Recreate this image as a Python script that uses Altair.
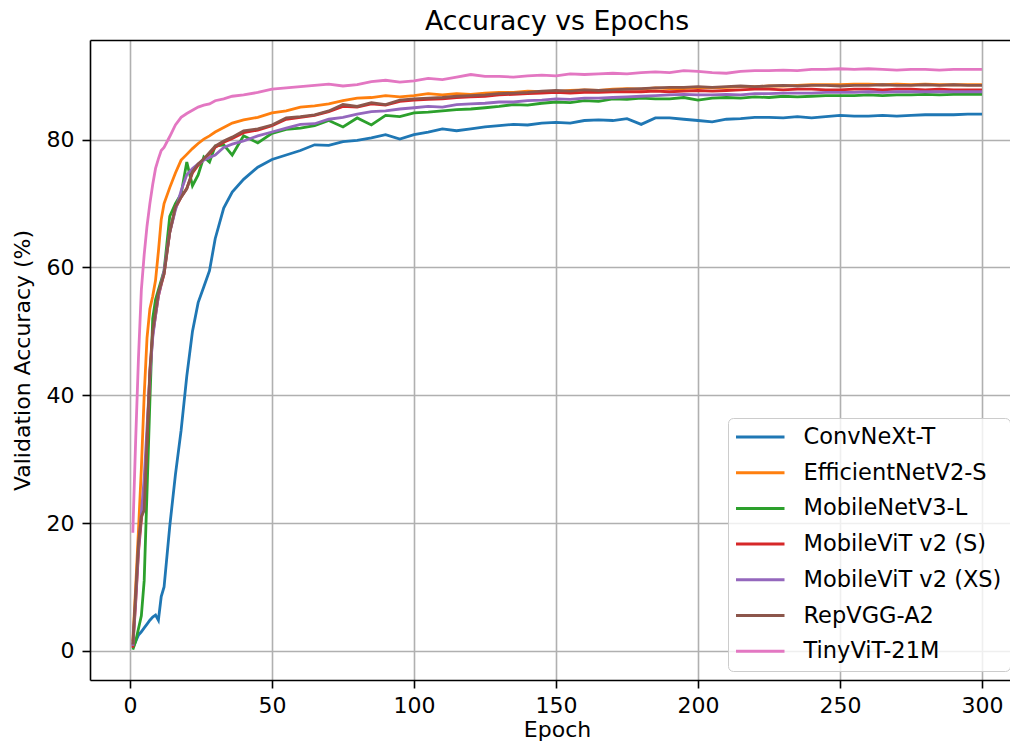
import altair as alt
import pandas as pd

epochs = [1, 2, 3, 4, 5, 6, 7, 8, 9, 10, 11, 12, 14, 16, 18, 20, 22, 24, 26, 28, 30, 33, 36, 40, 45,
          50, 55, 60, 65, 70, 75, 80, 85, 90, 95,
          100, 105, 110, 115, 120, 125, 130, 135, 140, 145,
          150, 155, 160, 165, 170, 175, 180, 185, 190, 195,
          200, 205, 210, 215, 220, 225, 230, 235, 240, 245,
          250, 255, 260, 265, 270, 275, 280, 285, 290, 295, 300]

convnext = [0.5, 1.5, 2.5, 3.0, 3.6, 4.2, 4.8, 5.3, 5.6, 4.8, 8.5, 10.0, 19.5, 27.6, 34.5, 43.0, 50.0, 54.5, 57.0, 59.5, 64.5, 69.3, 71.8, 73.8, 75.7,
            76.9, 77.6, 78.3, 79.2, 79.1, 79.7, 79.9, 80.3, 80.8, 80.1,
            80.8, 81.2, 81.7, 81.4, 81.7, 82.0, 82.2, 82.4, 82.3, 82.6,
            82.7, 82.6, 83.0, 83.1, 83.0, 83.3, 82.4, 83.4, 83.4, 83.2,
            83.0, 82.8, 83.2, 83.3, 83.5, 83.5, 83.4, 83.6, 83.4, 83.6,
            83.8, 83.7, 83.7, 83.8, 83.7, 83.8, 83.9, 83.9, 83.9, 84.0, 84.0]

efficientnet = [1.5, 10.0, 19.0, 28.5, 40.0, 49.0, 53.5, 55.5, 58.0, 62.5, 67.5, 70.0, 72.5, 74.8, 76.8, 77.7, 78.6, 79.4, 80.1, 80.6, 81.2, 81.9, 82.6, 83.1, 83.5,
                84.2, 84.5, 85.1, 85.3, 85.6, 86.1, 86.5, 86.6, 86.9, 86.7,
                86.9, 87.2, 87.0, 87.2, 87.1, 87.3, 87.4, 87.4, 87.6, 87.5,
                87.5, 87.7, 87.8, 87.7, 87.9, 88.0, 87.9, 88.1, 88.0, 88.0,
                88.2, 88.1, 88.2, 88.3, 88.3, 88.4, 88.4, 88.5, 88.6, 88.6,
                88.6, 88.7, 88.7, 88.6, 88.7, 88.6, 88.7, 88.6, 88.6, 88.6, 88.6]

mobilenet = [0.2, 1.5, 3.5, 5.5, 11.0, 25.0, 39.0, 52.0, 55.0, 56.5, 58.0, 59.5, 68.0, 70.0, 71.5, 76.5, 72.8, 74.5, 77.3, 76.5, 79.0, 79.2, 77.6, 80.6, 79.5,
             81.0, 81.6, 81.8, 82.2, 83.0, 82.0, 83.4, 82.3, 83.8, 83.6,
             84.2, 84.3, 84.5, 84.7, 84.8, 85.0, 85.2, 85.5, 85.4, 85.7,
             85.9, 85.8, 86.1, 86.0, 86.4, 86.3, 86.5, 86.4, 86.4, 86.6,
             86.2, 86.5, 86.6, 86.5, 86.7, 86.6, 86.8, 86.7, 86.8, 86.9,
             86.9, 86.9, 87.0, 86.9, 87.0, 87.0, 87.1, 87.0, 87.1, 87.1, 87.1]

mobilevit_s = [0.5, 7.5, 15.5, 20.5, 24.0, 33.0, 43.5, 49.5, 52.5, 55.5, 57.3, 59.0, 65.5, 69.3, 71.0, 72.4, 74.8, 76.0, 76.9, 77.8, 78.8, 79.6, 80.2, 81.1, 81.5,
               82.2, 83.2, 83.5, 83.8, 84.4, 85.2, 85.1, 85.6, 85.4, 86.0,
               86.2, 86.3, 86.4, 86.6, 86.7, 86.8, 87.0, 87.1, 87.2, 87.3,
               87.4, 87.3, 87.4, 87.4, 87.5, 87.5, 87.5, 87.6, 87.5, 87.6,
               87.7, 87.6, 87.7, 87.8, 87.9, 87.9, 87.8, 87.9, 87.9, 87.8,
               87.8, 87.9, 87.9, 87.8, 87.9, 87.9, 87.8, 87.9, 87.8, 87.8, 87.8]

mobilevit_xs = [0.8, 8.0, 16.0, 21.5, 27.0, 35.0, 43.0, 49.0, 52.5, 55.5, 57.5, 59.5, 65.5, 69.0, 72.0, 74.5, 75.5, 76.2, 76.8, 77.2, 77.6, 78.8, 79.3, 79.8, 80.6,
                81.2, 81.8, 82.4, 82.5, 83.2, 83.5, 84.0, 84.4, 84.5, 84.8,
                85.0, 85.2, 85.1, 85.5, 85.6, 85.7, 85.9, 85.9, 86.1, 86.2,
                86.4, 86.3, 86.5, 86.5, 86.6, 86.7, 86.8, 86.9, 87.0, 87.1,
                87.0, 87.0, 87.1, 87.0, 87.2, 87.2, 87.3, 87.3, 87.3, 87.4,
                87.4, 87.4, 87.5, 87.4, 87.5, 87.5, 87.5, 87.5, 87.5, 87.5, 87.5]

repvgg = [1.0, 9.0, 17.0, 21.0, 22.0, 33.0, 44.0, 50.0, 53.0, 56.0, 57.5, 59.0, 65.5, 69.5, 71.0, 72.3, 75.0, 76.2, 77.0, 78.0, 79.0, 79.8, 80.4, 81.4, 81.7,
          82.3, 83.4, 83.6, 83.9, 84.5, 85.5, 85.2, 85.8, 85.5, 86.2,
          86.4, 86.5, 86.6, 86.8, 86.9, 87.0, 87.2, 87.3, 87.4, 87.6,
          87.7, 87.6, 87.8, 87.7, 87.8, 87.9, 88.0, 88.1, 88.2, 88.2,
          88.3, 88.2, 88.3, 88.4, 88.3, 88.4, 88.5, 88.4, 88.5, 88.5,
          88.4, 88.5, 88.5, 88.6, 88.5, 88.5, 88.6, 88.5, 88.6, 88.5, 88.5]

tinyvit = [18.5, 33.0, 46.0, 56.5, 62.0, 66.5, 70.0, 73.0, 75.5, 77.0, 78.3, 78.8, 80.5, 82.3, 83.5, 84.1, 84.6, 85.1, 85.4, 85.6, 86.1, 86.4, 86.8, 87.0, 87.4,
           87.9, 88.1, 88.3, 88.5, 88.7, 88.4, 88.6, 89.1, 89.3, 89.0,
           89.2, 89.6, 89.4, 89.8, 90.2, 89.9, 89.9, 89.8, 90.0, 90.1,
           90.0, 90.3, 90.2, 90.3, 90.4, 90.3, 90.5, 90.6, 90.5, 90.8,
           90.7, 90.5, 90.4, 90.7, 90.8, 90.8, 90.9, 90.8, 91.0, 91.0,
           91.1, 91.0, 91.1, 91.0, 90.9, 91.0, 91.0, 90.9, 91.0, 91.0, 91.0]

models = ["ConvNeXt-T", "EfficientNetV2-S", "MobileNetV3-L", "MobileViT v2 (S)",
          "MobileViT v2 (XS)", "RepVGG-A2", "TinyViT-21M"]
series = [convnext, efficientnet, mobilenet, mobilevit_s, mobilevit_xs, repvgg, tinyvit]
colors = ["#1f77b4", "#ff7f0e", "#2ca02c", "#d62728", "#9467bd", "#8c564b", "#e377c2"]
x_ticks = [0, 50, 100, 150, 200, 250, 300]
y_ticks = [0, 20, 40, 60, 80]

rows = []
for i, (m, vals) in enumerate(zip(models, series)):
    for e, v in zip(epochs, vals):
        rows.append({"model": m, "order": i, "epoch": e, "acc": v})
df = pd.DataFrame(rows)

FONT = "DejaVu Sans"
x_scale = alt.Scale(domain=[-14.08, 309.86], nice=False, zero=False)
y_enc = alt.Y("acc:Q",
              scale=alt.Scale(domain=[-4.55, 95.6], nice=False, zero=False),
              axis=alt.Axis(values=y_ticks, title="Validation Accuracy (%)",
                            labelPadding=8, titleX=-60.5, titleAngle=270,
                            titleBaseline="alphabetic"))

lines = alt.Chart(df).mark_line(strokeWidth=2.8, clip=True).encode(
    x=alt.X("epoch:Q", scale=x_scale,
            axis=alt.Axis(values=x_ticks, title="Epoch", format="d",
                          labelPadding=7, titleY=56, titleX=467,
                          titleBaseline="alphabetic")),
    y=y_enc,
    color=alt.Color("model:N",
                    scale=alt.Scale(domain=models, range=colors),
                    legend=alt.Legend(orient="none", legendX=638, legendY=378,
                                      title=None, symbolType="stroke",
                                      symbolSize=2500, symbolStrokeWidth=3,
                                      clipHeight=22,
                                      labelFontSize=22.5, labelFont=FONT,
                                      labelColor="black", labelLimit=400,
                                      rowPadding=12.7, padding=8, symbolOffset=-3,
                                      labelOffset=17.5,
                                      fillColor="rgba(255,255,255,0.8)",
                                      strokeColor="#cccccc", cornerRadius=5)),
    detail="order:O",
)

# invisible copy that only carries the top frame line (matplotlib spine)
top_frame = alt.Chart(df).mark_line(strokeOpacity=0).encode(
    x=alt.X("epoch:Q", scale=x_scale,
            axis=alt.Axis(orient="top", labels=False, ticks=False, grid=False,
                          domain=True, title=None)),
    y=y_enc,
    detail="order:O",
)

chart = alt.layer(lines, top_frame).resolve_axis(x="independent").properties(
    width=920,
    height=640,
    autosize=alt.AutoSizeParams(type="none"),
    padding={"left": 82, "top": 32, "right": 0, "bottom": 62},
    title=alt.TitleParams("Accuracy vs Epochs", fontSize=26.7, font=FONT,
                          fontWeight="normal", color="black", anchor="middle",
                          dx=7, baseline="top", offset=4),
).configure_view(
    stroke="transparent", strokeWidth=0
).configure_axis(
    labelFont=FONT, labelFontSize=22, labelColor="black",
    titleFont=FONT, titleFontSize=22, titleFontWeight="normal", titleColor="black",
    tickColor="black", tickSize=8, tickWidth=1.6,
    domain=True, domainColor="black", domainWidth=1.6,
    grid=True, gridColor="#b0b0b0", gridWidth=1.6,
)

chart.save("out.html", embed_options={"renderer": "svg", "actions": False})
